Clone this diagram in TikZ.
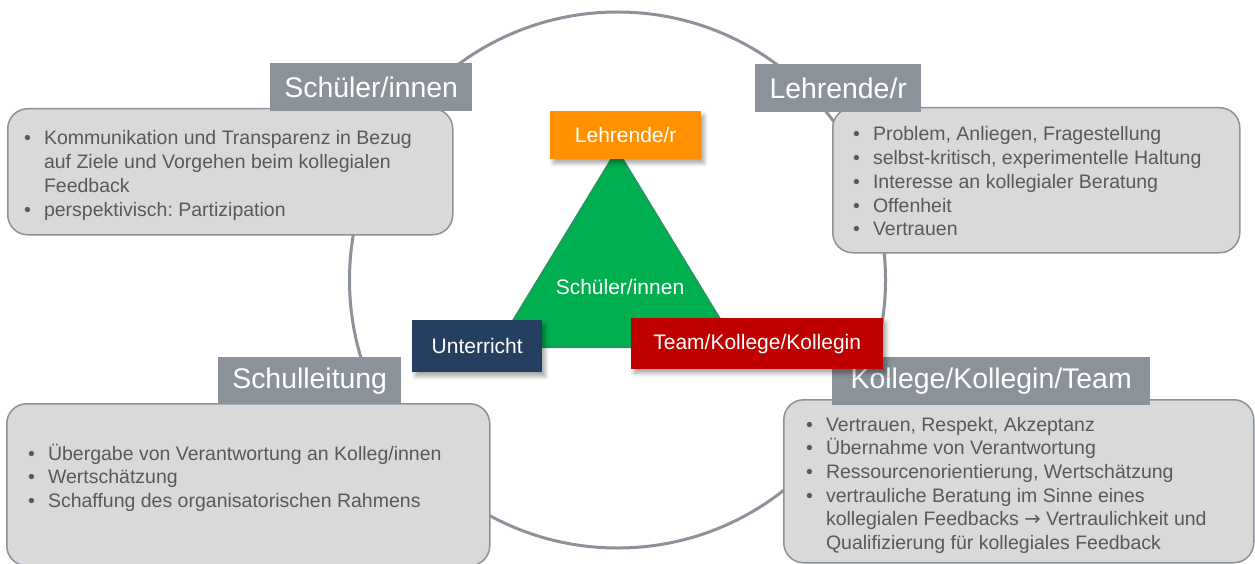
\documentclass[tikz,border=0pt]{standalone}
\usepackage{fontspec}
\setmainfont{Liberation Sans}
\newfontfamily\arrowfont{DejaVu Sans}
\usetikzlibrary{shadows.blur}

\definecolor{titlegrey}{HTML}{8B929A}
\definecolor{boxgrey}{HTML}{D9D9D9}
\definecolor{bodytext}{HTML}{595959}
\definecolor{trigreen}{HTML}{00B050}
\definecolor{triedge}{HTML}{1E9A5A}
\definecolor{lehrorange}{HTML}{FF9100}
\definecolor{unterblue}{HTML}{243F60}
\definecolor{teamred}{HTML}{C00000}

\tikzset{
  ring/.style={draw=titlegrey, line width=3pt},
  infobox/.style={draw=titlegrey, line width=1.5pt, fill=boxgrey, rounded corners=20pt,
    anchor=north west, inner sep=0pt},
  titlebox/.style={fill=titlegrey, text=white, font=\fontsize{28.4}{32}\selectfont,
    anchor=north west, inner sep=0pt},
  bodytxt/.style={anchor=base west, inner sep=0pt, text=bodytext,
    font=\fontsize{19.5}{23.7}\selectfont},
  rolebox/.style={text=white, font=\fontsize{21}{25}\selectfont, anchor=north west, inner sep=0pt,
    blur shadow={shadow xshift=3pt, shadow yshift=-4pt, shadow blur radius=4pt, shadow opacity=35}},
}
\newcommand{\bul}{\textbullet}
\newcommand{\pfeil}{{\arrowfont →}}
\newenvironment{bullets}{\begin{tabular}[t]{@{}c@{\hspace{13pt}}l@{}}}{\end{tabular}}
\frenchspacing

\begin{document}
\begin{tikzpicture}[x=1pt, y=-1pt]
	\useasboundingbox (0,0) rectangle (1255,564);

	% ring behind everything
	\node [inner sep=0pt] at (617.5, 280) (mid) {};
	\draw [ring] (mid) circle (268pt);

	% grey boxes
	\node [infobox, minimum width=445pt, minimum height=126pt] at (7, 108) (schuelerbox) {};
	\node [infobox, minimum width=407pt, minimum height=145pt] at (832, 107) (lehrbox) {};
	\node [infobox, minimum width=483pt, minimum height=162pt] at (6, 403) (leitungbox) {};
	\node [infobox, minimum width=470pt, minimum height=163pt] at (783, 399) (kollegebox) {};

	% titles
	\node [titlebox, minimum width=202pt, minimum height=48pt] at (270, 63) (schuelertitle) {Schüler/innen};
	\node [titlebox, minimum width=166pt, minimum height=48pt] at (755, 64) (lehrtitle) {Lehrende/r};
	\node [titlebox, minimum width=183pt, minimum height=47pt] at (218, 357) (leitungtitle) {Schulleitung};
	\node [titlebox, minimum width=318pt, minimum height=48pt] at (832, 357) (kollegetitle) {Kollege/Kollegin/Team};

	% lists
	\node [bodytxt] at (24, 145) (schuelertxt) {\begin{bullets}
		\bul & Kommunikation und Transparenz in Bezug\\
		     & auf Ziele und Vorgehen beim kollegialen\\
		     & Feedback\\
		\bul & perspektivisch: Partizipation
	\end{bullets}};
	\node [bodytxt] at (853, 141) (lehrtxt) {\begin{bullets}
		\bul & Problem, Anliegen, Fragestellung\\
		\bul & selbst-kritisch, experimentelle Haltung\\
		\bul & Interesse an kollegialer Beratung\\
		\bul & Offenheit\\
		\bul & Vertrauen
	\end{bullets}};
	\node [bodytxt] at (28, 460) (leitungtxt) {\begin{bullets}
		\bul & Übergabe von Verantwortung an Kolleg/innen\\
		\bul & Wertschätzung\\
		\bul & Schaffung des organisatorischen Rahmens
	\end{bullets}};
	\node [bodytxt] at (806, 431) (kollegetxt) {\begin{bullets}
		\bul & Vertrauen, Respekt, Akzeptanz\\
		\bul & Übernahme von Verantwortung\\
		\bul & Ressourcenorientierung, Wertschätzung\\
		\bul & vertrauliche Beratung im Sinne eines\\
		     & kollegialen Feedbacks \pfeil{} Vertraulichkeit und\\
		     & Qualifizierung für kollegiales Feedback
	\end{bullets}};

	% triangle in the middle
	\coordinate (top) at (617, 150);
	\coordinate (left) at (497, 347);
	\coordinate (right) at (737, 347);
	\draw [triedge, line width=2pt, fill=trigreen, line join=round] (top) -- (left) -- (right) -- cycle;
	\node [text=white, font=\fontsize{21}{25}\selectfont] at (620, 287) (mitte) {Schüler/innen};

	% corner labels
	\node [rolebox, fill=lehrorange, minimum width=151pt, minimum height=48pt] at (550, 111) (lehrende) {Lehrende/r};
	\node [rolebox, fill=unterblue, minimum width=130pt, minimum height=52pt] at (412, 320) (unterricht) {Unterricht};
	\node [rolebox, fill=teamred, minimum width=252pt, minimum height=51pt] at (631, 318) (team) {Team/Kollege/Kollegin};
\end{tikzpicture}
\end{document}
